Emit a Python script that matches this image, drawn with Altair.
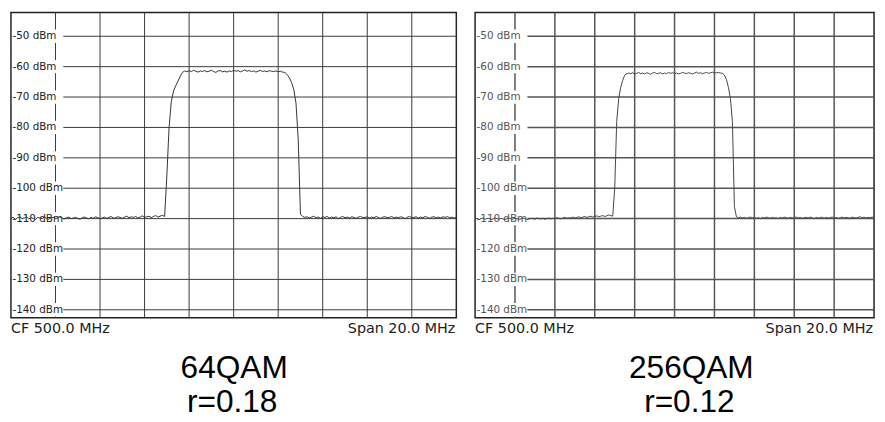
import altair as alt
import numpy as np
import pandas as pd

# ---- sweep grid (instrument settings) ----
F_START, F_STOP, N_POINTS = 490.0, 510.0, 201
FREQ = np.round(np.linspace(F_START, F_STOP, N_POINTS), 2)

Y_MIN, Y_MAX = -142.6, -42.2
H_GRID = [-50, -60, -70, -80, -90, -100, -110, -120, -130, -140]
H_LABELS = ["-50 dBm", "-60 dBm", "-70 dBm", "-80 dBm", "-90 dBm",
            "-100 dBm", "-110 dBm", "-120 dBm", "-130 dBm", "-140 dBm"]
V_GRID = [492, 494, 496, 498, 500, 502, 504, 506, 508]

# ---- 64QAM trace (dBm) ----
qam64_floor_low = [
    -109.9, -109.6, -110.2, -109.7, -109.5, -110.0, -109.8, -109.4, -110.1, -109.7,
    -109.9, -110.3, -109.6, -109.8, -110.0, -109.5, -109.9, -110.2, -109.7, -109.6,
    -110.0, -109.8, -109.4, -109.9, -110.1, -109.7, -109.5, -110.0, -109.8, -109.6,
    -109.9, -110.2, -109.7, -109.5, -109.8, -110.0, -109.6, -109.9, -109.4, -109.7,
    -110.0, -109.8, -109.5, -109.9, -109.6, -109.3, -109.8, -109.7, -109.4, -109.6,
    -109.9, -109.5, -109.2, -109.7, -109.4, -109.6, -109.3, -109.8, -109.5, -109.1,
    -109.6, -109.4, -109.2, -109.7, -109.3, -109.0, -109.5, -109.2, -108.9, -109.3]
qam64_rise = [-96.0, -80.0, -71.5, -68.0, -66.3, -64.8, -63.2, -61.9]
qam64_top = [
    -61.4, -61.7, -61.3, -61.6, -61.2, -61.5, -61.8, -61.4, -61.6, -61.3,
    -61.7, -61.5, -61.2, -61.6, -61.9, -61.4, -61.3, -61.7, -61.5, -61.8,
    -61.4, -61.6, -61.2, -61.5, -61.3, -61.7, -61.4, -61.1, -61.5, -61.3,
    -61.6, -61.4, -61.8, -61.5, -61.2, -61.6, -61.4, -61.7, -61.3, -61.5,
    -61.6, -61.4, -61.7, -61.5, -61.8]
qam64_fall = [-61.9, -62.6, -63.6, -65.2, -67.5, -72.0, -84.0, -108.5]
qam64_floor_high = [
    -109.3, -109.6, -109.4, -109.8, -109.5, -109.2, -109.7, -109.5, -109.9, -109.4,
    -109.6, -109.3, -109.8, -109.5, -109.7, -109.4, -110.0, -109.6, -109.3, -109.7,
    -109.5, -109.8, -109.4, -109.6, -109.9, -109.5, -109.3, -109.7, -109.6, -109.4,
    -109.8, -109.5, -109.7, -109.3, -109.6, -109.9, -109.5, -109.4, -109.7, -109.6,
    -109.3, -109.8, -109.5, -109.7, -109.4, -109.6, -110.0, -109.5, -109.3, -109.7,
    -109.6, -109.4, -109.8, -109.5, -109.7, -109.3, -109.6, -109.9, -109.5, -109.4,
    -109.7, -109.5, -109.8, -109.4, -109.6, -109.3, -109.7, -109.5, -109.8, -109.6]

# ---- 256QAM trace (dBm) ----
qam256_floor_low = [
    -110.1, -109.9, -110.3, -110.0, -109.8, -110.2, -110.0, -109.9, -110.3, -110.1,
    -109.8, -110.0, -110.2, -109.9, -110.1, -110.3, -110.0, -109.8, -110.1, -110.2,
    -109.9, -110.0, -110.2, -110.1, -109.8, -110.0, -110.3, -110.1, -109.9, -110.0,
    -110.2, -109.8, -110.0, -110.1, -109.9, -110.2, -110.0, -109.8, -110.1, -109.9,
    -110.0, -109.7, -109.9, -110.1, -109.8, -109.6, -109.9, -109.7, -109.8, -109.5,
    -109.8, -109.6, -109.4, -109.7, -109.5, -109.3, -109.6, -109.4, -109.2, -109.5,
    -109.3, -109.1, -109.4, -109.2, -109.0, -109.3, -109.1, -108.8, -109.0, -109.2]
qam256_rise = [-100.0, -78.0, -70.5, -66.8, -64.5, -62.8, -62.3]
qam256_top = [
    -62.1, -62.3, -62.0, -62.4, -62.2, -61.9, -62.3, -62.1, -62.4, -62.0,
    -62.2, -62.5, -62.1, -61.9, -62.3, -62.2, -62.0, -62.4, -62.1, -62.3,
    -61.9, -62.2, -62.0, -62.3, -62.1, -62.4, -62.2, -61.9, -62.1, -62.3,
    -62.0, -62.2, -62.4, -62.1, -61.8, -62.2, -62.0, -62.3, -62.1, -61.9,
    -62.2, -62.0, -61.8, -62.1, -62.0, -61.9, -62.1, -62.2]
qam256_fall = [-62.8, -64.2, -66.8, -70.5, -78.0, -106.0]
qam256_floor_high = [
    -109.4, -109.7, -109.5, -109.8, -109.6, -109.9, -109.7, -109.5, -109.8, -109.6,
    -109.9, -109.7, -110.0, -109.6, -109.8, -109.5, -109.7, -109.9, -109.6, -109.8,
    -109.7, -110.0, -109.6, -109.8, -109.5, -109.7, -109.9, -109.6, -109.8, -109.7,
    -109.5, -109.8, -109.6, -109.9, -109.7, -109.6, -109.8, -109.5, -109.7, -110.0,
    -109.6, -109.8, -109.7, -109.5, -109.9, -109.6, -109.8, -109.7, -109.5, -109.8,
    -109.6, -109.9, -109.7, -109.5, -109.8, -109.6, -109.7, -109.9, -109.5, -109.7,
    -109.8, -109.6, -109.4, -109.7, -109.5, -109.8, -109.6, -109.7, -109.5, -109.6]

QAM64 = qam64_floor_low + qam64_rise + qam64_top + qam64_fall + qam64_floor_high
QAM256 = qam256_floor_low + qam256_rise + qam256_top + qam256_fall + qam256_floor_high

PLOT_H = 309


def panel(levels, width, caption1, caption2, cap_x, grid_color, grid_w,
          trace_color, label_color):
    xs = alt.Scale(domain=[F_START, F_STOP], nice=False, zero=False)
    ys = alt.Scale(domain=[Y_MIN, Y_MAX], nice=False, zero=False)
    X = alt.X("f:Q", scale=xs, axis=None)
    trace = pd.DataFrame({"f": FREQ, "p": levels})
    hg = pd.DataFrame({"p": H_GRID, "t": H_LABELS})
    vg = pd.DataFrame({"f": V_GRID})

    vrules = alt.Chart(vg).mark_rule(color=grid_color, strokeWidth=grid_w).encode(x=X)
    hrules = alt.Chart(hg).mark_rule(color=grid_color, strokeWidth=grid_w).encode(
        y=alt.Y("p:Q", scale=ys, axis=None))
    bg = alt.Chart(hg).transform_calculate(
        p1="datum.p + 2.2", p2="datum.p - 2.2"
    ).mark_rect(color="white").encode(
        x=alt.value(1), x2=alt.value(53),
        y=alt.Y("p1:Q", scale=ys, axis=None), y2="p2:Q")
    labels = alt.Chart(hg).mark_text(
        align="left", baseline="middle", font="DejaVu Sans", fontSize=10.5,
        color=label_color).encode(
        x=alt.value(1.5), y=alt.Y("p:Q", scale=ys, axis=None), text="t:N")
    line = alt.Chart(trace).mark_line(color=trace_color, strokeWidth=1).encode(
        x=X, y=alt.Y("p:Q", scale=ys, axis=None))
    cf = alt.Chart(pd.DataFrame({"t": ["CF 500.0 MHz"]})).mark_text(
        align="left", baseline="alphabetic", font="DejaVu Sans", fontSize=14.5,
        color="#222").encode(x=alt.value(0), y=alt.value(PLOT_H + 16), text="t:N")
    span = alt.Chart(pd.DataFrame({"t": ["Span 20.0 MHz"]})).mark_text(
        align="right", baseline="alphabetic", font="DejaVu Sans", fontSize=14.5,
        color="#222").encode(x=alt.value(width - 1), y=alt.value(PLOT_H + 16), text="t:N")
    cap1 = alt.Chart(pd.DataFrame({"t": [caption1]})).mark_text(
        align="center", baseline="alphabetic", font="Liberation Sans", fontSize=32,
        color="black").encode(x=alt.value(cap_x), y=alt.value(370), text="t:N")
    cap2 = alt.Chart(pd.DataFrame({"t": [caption2]})).mark_text(
        align="center", baseline="alphabetic", font="Liberation Sans", fontSize=32,
        color="black").encode(x=alt.value(cap_x - 2), y=alt.value(404), text="t:N")
    return alt.layer(vrules, hrules, bg, labels, line, cf, span, cap1, cap2).properties(
        width=width, height=PLOT_H)


left = panel(QAM64, 451, "64QAM", "r=0.18", 226, "#3a3a3a", 1, "#333", "#222")
right = panel(QAM256, 404, "256QAM", "r=0.12", 219, "#555", 1.5, "#444", "#555")

chart = alt.hconcat(left, right, spacing=13).properties(padding=0).configure_view(
    stroke="#222", strokeWidth=1.5)

chart.save("out.html", embed_options={"renderer": "svg", "actions": False})
